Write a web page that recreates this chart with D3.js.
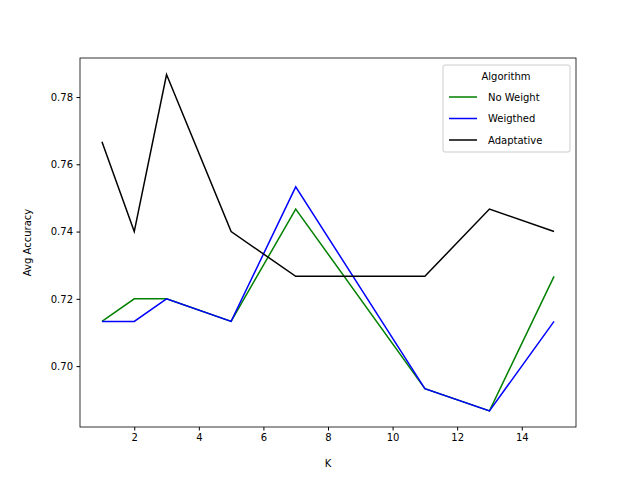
<!DOCTYPE html>
<html>
<head>
<meta charset="utf-8">
<script src="https://cdn.jsdelivr.net/npm/d3@7"></script>
<style>
body { margin: 0; background: #fff; }
text { font-family: "DejaVu Sans", sans-serif; }
</style>
</head>
<body>
<svg id="chart" width="640" height="480"></svg>
<script>
const kValues = [1, 2, 3, 5, 7, 11, 13, 15];
const noWeight = [0.7133, 0.72, 0.72, 0.7133, 0.7467, 0.6933, 0.6867, 0.7267];
const weighted = [0.7133, 0.7133, 0.72, 0.7133, 0.7533, 0.6933, 0.6867, 0.7133];
const adaptative = [0.7667, 0.74, 0.7867, 0.74, 0.7267, 0.7267, 0.7467, 0.74];
const seriesNames = ['No Weight', 'Weigthed', 'Adaptative'];
const seriesColors = ['green', 'blue', 'black'];
const xTicks = [2, 4, 6, 8, 10, 12, 14];
const yTicks = [0.70, 0.72, 0.74, 0.76, 0.78];

const svg = d3.select('#chart');
const plotLeft = 80, plotRight = 576, plotTop = 58, plotBottom = 427;

const x = d3.scaleLinear().domain([0.32, 15.68]).range([plotLeft, plotRight]);
const y = d3.scaleLinear().domain([0.6819, 0.7916]).range([plotBottom, plotTop]);

const series = [noWeight, weighted, adaptative];
const line = d3.line().x((d, i) => x(kValues[i])).y(d => y(d));

series.forEach((s, i) => {
    svg.append('path')
        .datum(s)
        .attr('d', line)
        .attr('fill', 'none')
        .attr('stroke', seriesColors[i])
        .attr('stroke-width', 1.5);
});

// Axes
const xAxis = svg.append('g').attr('transform', `translate(0,${plotBottom})`)
    .call(d3.axisBottom(x).tickValues(xTicks).tickSize(3.5).tickPadding(3.5).tickFormat(d3.format('d')));
const yAxis = svg.append('g').attr('transform', `translate(${plotLeft},0)`)
    .call(d3.axisLeft(y).tickValues(yTicks).tickSize(3.5).tickPadding(3.5).tickFormat(d3.format('.2f')));
[xAxis, yAxis].forEach(a => {
    a.select('.domain').remove();
    a.selectAll('text').attr('font-size', 10).attr('fill', '#000').style('font-family', 'DejaVu Sans');
    a.selectAll('line').attr('stroke', '#000');
});

svg.append('rect')
    .attr('x', plotLeft).attr('y', plotTop)
    .attr('width', plotRight - plotLeft).attr('height', plotBottom - plotTop)
    .attr('fill', 'none').attr('stroke', '#000').attr('stroke-width', 0.8);

svg.append('text').attr('x', (plotLeft + plotRight) / 2).attr('y', 467)
    .attr('text-anchor', 'middle').attr('font-size', 10).text('K');
svg.append('text').attr('transform', `translate(31,${(plotTop + plotBottom) / 2}) rotate(-90)`)
    .attr('text-anchor', 'middle').attr('font-size', 10).text('Avg Accuracy');

// Legend
const lg = svg.append('g');
lg.append('rect').attr('x', 443).attr('y', 65).attr('width', 127).attr('height', 87)
    .attr('rx', 2).attr('fill', '#fff').attr('fill-opacity', 0.8)
    .attr('stroke', '#ccc').attr('stroke-width', 1);
lg.append('text').attr('x', 506).attr('y', 80).attr('text-anchor', 'middle')
    .attr('font-size', 10).text('Algorithm');
seriesNames.forEach((name, i) => {
    const yy = 97 + i * 21.5;
    lg.append('line').attr('x1', 449).attr('x2', 477).attr('y1', yy).attr('y2', yy)
        .attr('stroke', seriesColors[i]).attr('stroke-width', 1.5);
    lg.append('text').attr('x', 488).attr('y', yy + 3.5).attr('font-size', 10).text(name);
});
</script>
</body>
</html>
